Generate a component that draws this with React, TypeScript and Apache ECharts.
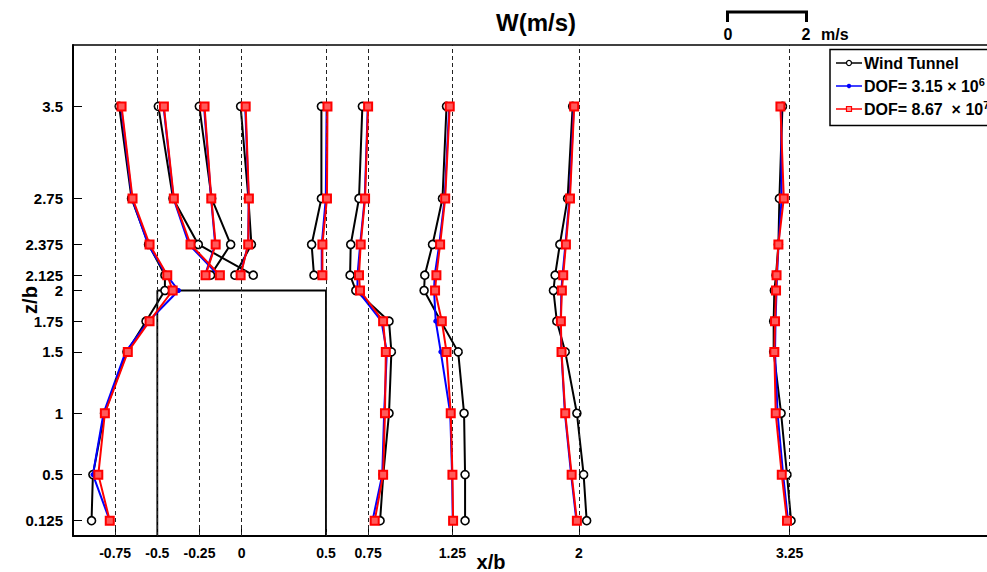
import React, { useEffect, useRef } from "react";
import * as echarts from "echarts";

// z/b levels
const LEVELS_FULL = [3.5, 2.75, 2.375, 2.125, 2, 1.75, 1.5, 1, 0.5, 0.125];
const LEVELS_TOP = [3.5, 2.75, 2.375, 2.125];

// axis ticks
const X_TICKS = [-0.75, -0.5, -0.25, 0, 0.5, 0.75, 1.25, 2, 3.25];
const Y_TICKS = [0.125, 0.5, 1, 1.5, 1.75, 2, 2.125, 2.375, 2.75, 3.5];
const STATIONS = [-0.75, -0.5, -0.25, 0, 0.5, 0.75, 1.25, 2, 3.25];
const X_MIN = -1;
const X_MAX = 4.42; // visible part of the axis (figure is cropped at the right)

// building outline (x/b, z/b)
const BUILDING_X = [-0.5, -0.5, 0.5, 0.5];
const BUILDING_Z = [0, 2, 2, 0];

// plotted profile positions (x/b) per station: Wind Tunnel (WT), DOF 3.15e6 (D1), DOF 8.67e7 (D2)
const WT_M075 = [-0.726, -0.653, -0.552, -0.455, -0.455, -0.567, -0.68, -0.813, -0.882, -0.89];
const D1_M075 = [-0.715, -0.65, -0.555, -0.445, -0.374, -0.552, -0.688, -0.819, -0.882, -0.782];
const D2_M075 = [-0.712, -0.647, -0.546, -0.441, -0.409, -0.546, -0.675, -0.811, -0.85, -0.782];

const WT_M050 = [-0.494, -0.407, -0.257, 0.069];
const D1_M050 = [-0.463, -0.404, -0.312, -0.139];
const D2_M050 = [-0.461, -0.402, -0.303, -0.129];

const WT_M025 = [-0.251, -0.178, -0.065, -0.184];
const D1_M025 = [-0.223, -0.181, -0.157, -0.217];
const D2_M025 = [-0.22, -0.18, -0.154, -0.214];

const WT_000 = [-0.006, 0.04, 0.058, -0.04];
const D1_000 = [0.021, 0.042, 0.039, -0.009];
const D2_000 = [0.024, 0.043, 0.039, -0.006];

const WT_050 = [0.473, 0.473, 0.415, 0.429];
const D1_050 = [0.504, 0.499, 0.475, 0.475];
const D2_050 = [0.509, 0.506, 0.479, 0.479];

const WT_075 = [0.716, 0.696, 0.647, 0.643, 0.677, 0.874, 0.888, 0.874, 0.84, 0.821];
const D1_075 = [0.748, 0.73, 0.703, 0.687, 0.687, 0.829, 0.861, 0.845, 0.834, 0.776];
const D2_075 = [0.75, 0.732, 0.706, 0.696, 0.702, 0.839, 0.855, 0.85, 0.839, 0.789];

const WT_125 = [1.215, 1.191, 1.132, 1.086, 1.082, 1.181, 1.284, 1.319, 1.325, 1.325];
const D1_125 = [1.231, 1.204, 1.172, 1.145, 1.141, 1.151, 1.181, 1.237, 1.248, 1.252];
const D2_125 = [1.234, 1.207, 1.177, 1.155, 1.147, 1.187, 1.215, 1.24, 1.25, 1.254];

const WT_200 = [1.963, 1.933, 1.887, 1.859, 1.849, 1.869, 1.919, 1.988, 2.028, 2.046];
const D1_200 = [1.97, 1.944, 1.92, 1.903, 1.896, 1.892, 1.896, 1.917, 1.954, 1.985];
const D2_200 = [1.972, 1.947, 1.923, 1.907, 1.899, 1.893, 1.897, 1.919, 1.957, 1.988];

const WT_325 = [3.207, 3.189, 3.183, 3.169, 3.159, 3.155, 3.155, 3.199, 3.234, 3.258];
const D1_325 = [3.199, 3.202, 3.184, 3.175, 3.172, 3.166, 3.163, 3.178, 3.211, 3.24];
const D2_325 = [3.195, 3.215, 3.183, 3.172, 3.169, 3.163, 3.159, 3.167, 3.203, 3.234];

const LEGEND_NAMES = ["Wind Tunnel", "DOF= 3.15 × 10^6", "DOF= 8.67  × 10^7"];

const PROFILES = [
  { levels: LEVELS_FULL, wt: WT_M075, d1: D1_M075, d2: D2_M075 },
  { levels: LEVELS_TOP, wt: WT_M050, d1: D1_M050, d2: D2_M050 },
  { levels: LEVELS_TOP, wt: WT_M025, d1: D1_M025, d2: D2_M025 },
  { levels: LEVELS_TOP, wt: WT_000, d1: D1_000, d2: D2_000 },
  { levels: LEVELS_TOP, wt: WT_050, d1: D1_050, d2: D2_050 },
  { levels: LEVELS_FULL, wt: WT_075, d1: D1_075, d2: D2_075 },
  { levels: LEVELS_FULL, wt: WT_125, d1: D1_125, d2: D2_125 },
  { levels: LEVELS_FULL, wt: WT_200, d1: D1_200, d2: D2_200 },
  { levels: LEVELS_FULL, wt: WT_325, d1: D1_325, d2: D2_325 },
];

const FONT = "Arial, 'Liberation Sans', Helvetica, sans-serif";
const NARROW = "'Liberation Sans Narrow', 'Arial Narrow', Arial, 'Liberation Sans', sans-serif";

export default function App() {
  const ref = useRef<HTMLDivElement>(null);

  useEffect(() => {
    document.body.style.margin = "0";
    const chart = echarts.init(ref.current!, null, { renderer: "svg" });

    const series: any[] = [];
    series.push({
      type: "line",
      data: BUILDING_X.map((x, i) => [x, BUILDING_Z[i]]),
      symbol: "none",
      lineStyle: { color: "#000", width: 1.8 },
      silent: true,
      z: 1,
      markLine: {
        silent: true,
        symbol: ["none", "none"],
        label: { show: false },
        lineStyle: { color: "#222", width: 1, type: [4, 3] },
        data: STATIONS.map((s) => ({ xAxis: s })),
      },
    });

    const styles = [
      { key: "wt", name: LEGEND_NAMES[0], color: "#000000", fill: "#ffffff", symbol: "circle", size: 8, bw: 1.6 },
      { key: "d1", name: LEGEND_NAMES[1], color: "#0000ff", fill: "#0000ff", symbol: "circle", size: 5, bw: 0 },
      { key: "d2", name: LEGEND_NAMES[2], color: "#ff0000", fill: "#ff5a5a", symbol: "rect", size: 8, bw: 2 },
    ];

    styles.forEach((st, si) => {
      PROFILES.forEach((p) => {
        const xs = (p as any)[st.key] as number[];
        series.push({
          type: "line",
          name: st.name,
          data: xs.map((x, i) => [x, p.levels[i]]),
          symbol: st.symbol,
          symbolSize: st.size,
          showAllSymbol: true,
          lineStyle: { color: st.color, width: 2 },
          itemStyle: { color: st.fill, borderColor: st.color, borderWidth: st.bw },
          emphasis: { disabled: true },
          z: 3 + si,
        });
      });
    });

    const legendRows = [
      { y: 63, color: "#000", symbol: "circle" },
      { y: 86, color: "#0000ff", symbol: "dot" },
      { y: 109, color: "#ff0000", symbol: "square" },
    ];
    const legendTexts = ["{a|Wind Tunnel}", "{a|DOF= 3.15 × 10}{s|6}", "{a|DOF= 8.67  × 10}{s|7}"];

    const legendGraphic: any[] = [
      {
        type: "rect",
        shape: { x: 830, y: 49.5, width: 200, height: 76 },
        style: { fill: "#fff", stroke: "#000", lineWidth: 1.5 },
        z: 100,
      },
    ];
    legendRows.forEach((r, i) => {
      legendGraphic.push({
        type: "line",
        shape: { x1: 836, y1: r.y, x2: 862, y2: r.y },
        style: { stroke: r.color, lineWidth: 1.5 },
        z: 101,
      });
      if (r.symbol === "circle") {
        legendGraphic.push({
          type: "circle",
          shape: { cx: 849, cy: r.y, r: 2.5 },
          style: { fill: "#fff", stroke: r.color, lineWidth: 1.2 },
          z: 102,
        });
      } else if (r.symbol === "dot") {
        legendGraphic.push({
          type: "circle",
          shape: { cx: 849, cy: r.y, r: 2.2 },
          style: { fill: r.color },
          z: 102,
        });
      } else {
        legendGraphic.push({
          type: "rect",
          shape: { x: 846.5, y: r.y - 2.5, width: 5, height: 5 },
          style: { fill: "#ff9090", stroke: r.color, lineWidth: 1.2 },
          z: 102,
        });
      }
      legendGraphic.push({
        type: "text",
        x: 864,
        y: r.y,
        style: {
          text: legendTexts[i],
          verticalAlign: "middle",
          rich: {
            a: { fontFamily: FONT, fontWeight: "bold", fontSize: 16, fill: "#000" },
            s: { fontFamily: FONT, fontWeight: "bold", fontSize: 11, fill: "#000", verticalAlign: "top", padding: [0, 0, 8, 0] },
          },
        },
        z: 102,
      });
    });

    const option: any = {
      animation: false,
      backgroundColor: "#fff",
      grid: { left: 73, top: 45, right: 0, bottom: 36, show: false },
      xAxis: [
        {
          type: "value",
          min: X_MIN,
          max: X_MAX,
          axisLine: { show: true, onZero: false, lineStyle: { color: "#000", width: 2 } },
          axisTick: { show: true, inside: true, length: 8, customValues: X_TICKS, lineStyle: { color: "#000", width: 1 } },
          axisLabel: {
            customValues: X_TICKS,
            formatter: (v: number) => String(v),
            color: "#000",
            fontFamily: NARROW,
            fontWeight: "bold",
            fontSize: 14,
            margin: 10,
          },
          splitLine: { show: false },
        },
        {
          type: "value",
          position: "top",
          min: X_MIN,
          max: X_MAX,
          axisLine: { show: true, onZero: false, lineStyle: { color: "#000", width: 1.5 } },
          axisTick: { show: false },
          axisLabel: { show: false },
          splitLine: { show: false },
        },
      ],
      yAxis: {
        type: "value",
        min: 0,
        max: 4,
        axisLine: { show: true, onZero: false, lineStyle: { color: "#000", width: 2 } },
        axisTick: { show: true, inside: true, length: 9, customValues: Y_TICKS, lineStyle: { color: "#000", width: 1 } },
        axisLabel: {
          customValues: Y_TICKS,
          formatter: (v: number) => String(v),
          color: "#000",
          fontFamily: FONT,
          fontWeight: "bold",
          fontSize: 15,
          margin: 10,
        },
        splitLine: { show: false },
      },
      series,
      graphic: [
        {
          type: "text",
          x: 536,
          y: 22,
          style: { text: "W(m/s)", fontFamily: FONT, fontWeight: "bold", fontSize: 24, fill: "#000", align: "center", verticalAlign: "middle" },
        },
        {
          type: "text",
          x: 491,
          y: 562,
          style: { text: "x/b", fontFamily: FONT, fontWeight: "bold", fontSize: 20, fill: "#000", align: "center", verticalAlign: "middle" },
        },
        {
          type: "text",
          x: 30,
          y: 300,
          rotation: Math.PI / 2,
          style: { text: "z/b", fontFamily: FONT, fontWeight: "bold", fontSize: 20, fill: "#000", align: "center", verticalAlign: "middle" },
        },
        {
          type: "polyline",
          shape: { points: [[727.5, 22], [727.5, 12], [806.5, 12], [806.5, 22]] },
          style: { stroke: "#000", lineWidth: 3, fill: "none" },
        },
        {
          type: "text",
          x: 728,
          y: 34,
          style: { text: "0", fontFamily: FONT, fontWeight: "bold", fontSize: 16, fill: "#000", align: "center", verticalAlign: "middle" },
        },
        {
          type: "text",
          x: 806,
          y: 34,
          style: { text: "2", fontFamily: FONT, fontWeight: "bold", fontSize: 16, fill: "#000", align: "center", verticalAlign: "middle" },
        },
        {
          type: "text",
          x: 821,
          y: 34,
          style: { text: "m/s", fontFamily: FONT, fontWeight: "bold", fontSize: 16, fill: "#000", align: "left", verticalAlign: "middle" },
        },
        ...legendGraphic,
      ],
    };

    chart.setOption(option);
    return () => chart.dispose();
  }, []);

  return <div ref={ref} style={{ width: 987, height: 572 }} />;
}
